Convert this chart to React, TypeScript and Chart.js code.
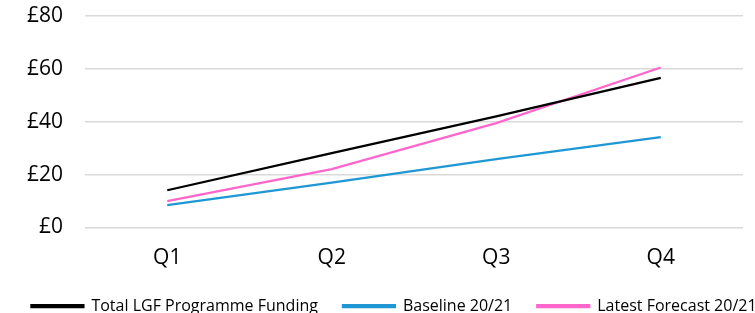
import React, { useEffect, useRef } from "react";
import { Chart, registerables } from "chart.js";

Chart.register(...registerables);

const categories = ["Q1", "Q2", "Q3", "Q4"];
const totalFunding = [14.1, 28.1, 42.0, 56.6];
const baseline = [8.5, 17.0, 25.9, 34.2];
const latestForecast = [10.0, 22.1, 39.5, 60.5];
const yTicks = [0, 20, 40, 60, 80];

const FONT = "'Open Sans', 'Liberation Sans', sans-serif";
const CW = 788;
const CH = 324;

export default function App() {
  const ref = useRef<HTMLCanvasElement | null>(null);
  useEffect(() => {
    if (!ref.current) return;
    const chart = new Chart(ref.current, {
      type: "line",
      data: {
        labels: categories,
        datasets: [
          {
            label: "Total LGF Programme Funding",
            data: totalFunding,
            borderColor: "#000000",
            backgroundColor: "#000000",
            borderWidth: 2.25,
            pointRadius: 0,
            tension: 0,
          },
          {
            label: "Baseline 20/21",
            data: baseline,
            borderColor: "#1f97d4",
            backgroundColor: "#1f97d4",
            borderWidth: 2.25,
            pointRadius: 0,
            tension: 0,
          },
          {
            label: "Latest Forecast 20/21",
            data: latestForecast,
            borderColor: "#ff66cc",
            backgroundColor: "#ff66cc",
            borderWidth: 2.25,
            pointRadius: 0,
            tension: 0,
          },
        ],
      },
      options: {
        animation: false,
        responsive: false,
        maintainAspectRatio: false,
        layout: { padding: { left: 0, right: 0, top: 16, bottom: 0 } },
        plugins: {
          tooltip: { enabled: false },
          legend: {
            position: "bottom",
            labels: {
              boxWidth: 52,
              boxHeight: 2,
              padding: 25,
              color: "#000",
              font: { family: FONT, size: 16 },
            },
          },
        },
        scales: {
          x: {
            offset: true,
            grid: { display: false, drawTicks: false },
            border: { display: false },
            afterFit: (s: any) => {
              s.height = 45.5;
              s.paddingLeft = 0;
              s.paddingRight = 0;
            },
            ticks: {
              color: "#000",
              padding: 18,
              font: { family: FONT, size: 21 },
            },
          },
          y: {
            min: 0,
            max: 80,
            afterBuildTicks: (s: any) => {
              s.ticks = yTicks.map((v) => ({ value: v }));
            },
            afterFit: (s: any) => {
              s.width = 85;
              s.paddingTop = 0;
              s.paddingBottom = 0;
            },
            grid: { color: "#d9d9d9", lineWidth: 1.5, drawTicks: false },
            border: { display: false },
            ticks: {
              color: "#000",
              padding: 22,
              font: { family: FONT, size: 21 },
              callback: (v: any) => "£" + v,
            },
          },
          yR: {
            position: "right",
            display: true,
            grid: { display: false, drawTicks: false },
            border: { display: false },
            ticks: { display: false },
            afterFit: (s: any) => {
              s.width = CW - 743;
              s.paddingTop = 0;
              s.paddingBottom = 0;
            },
          },
        },
      },
    });
    return () => chart.destroy();
  }, []);
  return (
    <div
      style={{
        position: "fixed",
        left: 0,
        top: 0,
        width: 755,
        height: 313,
        overflow: "hidden",
        background: "#fff",
      }}
    >
      <canvas ref={ref} width={CW} height={CH} style={{ display: "block" }} />
    </div>
  );
}
